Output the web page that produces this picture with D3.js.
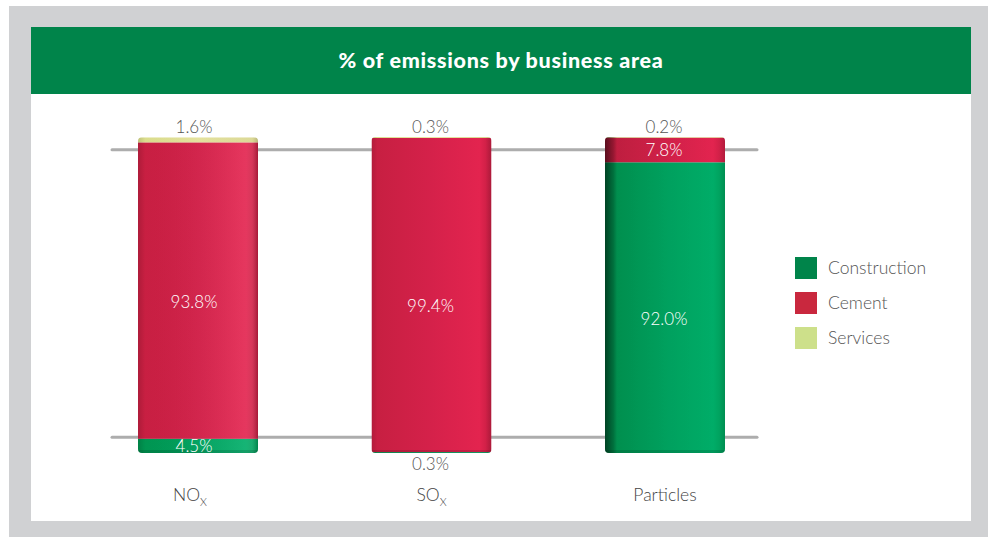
<!DOCTYPE html>
<html><head><meta charset="utf-8">
<script src="https://cdn.jsdelivr.net/npm/d3@7"></script>
<style>
html,body{margin:0;padding:0;background:#fff;}
svg{display:block;}
</style></head>
<body>
<svg id="chart" width="988" height="537"></svg>
<script>
// ---- data ----
const categories = ["NOx", "SOx", "Particles"];
const catMain = ["NO", "SO", "Particles"];
const catSub = ["X", "X", ""];
const seriesNames = ["Construction", "Cement", "Services"];
const construction = [4.5, 0.3, 92.0];
const cement = [93.8, 99.4, 7.8];
const services = [1.6, 0.3, 0.2];
const title = "% of emissions by business area";

// ---- setup ----
const svg = d3.select("#chart");
const W = 988, H = 537;
const font = "Lato, 'Open Sans', sans-serif";

svg.append("rect").attr("x", 9).attr("y", 6).attr("width", W - 9).attr("height", H - 6).attr("fill", "#d0d1d3");
svg.append("rect").attr("x", 31).attr("y", 94).attr("width", 940).attr("height", 427).attr("fill", "#ffffff");
svg.append("rect").attr("x", 31).attr("y", 27).attr("width", 940).attr("height", 67).attr("fill", "#00844a");
svg.append("text").attr("x", 501).attr("y", 68).attr("text-anchor", "middle")
  .attr("fill", "#fff").attr("font-family", font).attr("font-weight", 900)
  .attr("font-size", 21.5).attr("letter-spacing", 0.7).text(title);

const rows = categories.map((c, i) => ({
  cat: c, Construction: construction[i], Cement: cement[i], Services: services[i]
}));
const stack = d3.stack().keys(seriesNames)(rows);

const x = d3.scalePoint().domain(categories).range([198, 665]);
const barW = 120;
const y = d3.scaleLinear().domain([0, 100]).range([453, 137]);

const legendColor = d3.scaleOrdinal().domain(seriesNames).range(["#00844a", "#c9283e", "#cde08a"]);

// gradients
const defs = svg.append("defs");
function grad(id, stops) {
  const g = defs.append("linearGradient").attr("id", id).attr("x1", "0").attr("x2", "1").attr("y1", "0").attr("y2", "0");
  stops.forEach(s => g.append("stop").attr("offset", s[0]).attr("stop-color", s[1]));
}
grad("g-Construction", [[0, "#00934f"], [0.5, "#00a460"], [0.9, "#00ad68"], [1, "#009a58"]]);
grad("g-Cement", [[0, "#c61f41"], [0.5, "#d5214a"], [0.9, "#e3244f"], [1, "#c21d41"]]);
grad("g-Services", [[0, "#d9dc8a"], [0.5, "#e8e6a0"], [1, "#d6d38a"]]);
// per-bar perspective shading overlays
const shadeStops = [
  [[0, "rgba(0,0,0,0.12)"], [0.06, "rgba(0,0,0,0)"], [0.86, "rgba(255,255,255,0.08)"], [0.95, "rgba(255,255,255,0.1)"], [1, "rgba(0,0,0,0.15)"]],
  [[0, "rgba(0,0,0,0.1)"], [0.05, "rgba(0,0,0,0)"], [0.95, "rgba(0,0,0,0)"], [1, "rgba(0,0,0,0.12)"]],
  [[0, "rgba(0,0,0,0.55)"], [0.07, "rgba(0,0,0,0.25)"], [0.1, "rgba(0,0,0,0.05)"], [0.95, "rgba(0,0,0,0)"], [1, "rgba(0,0,0,0.08)"]]
];
shadeStops.forEach((s, i) => {
  const g = defs.append("linearGradient").attr("id", "shade" + i).attr("x1", "0").attr("x2", "1").attr("y1", "0").attr("y2", "0");
  s.forEach(t => g.append("stop").attr("offset", t[0]).attr("stop-color", t[1]));
});
categories.forEach((c, i) => {
  const top = d3.max(stack, s => s[i][1]);
  defs.append("clipPath").attr("id", "clip" + i).append("rect")
    .attr("x", x(c) - barW / 2).attr("y", y(top)).attr("width", barW)
    .attr("height", y(0) - y(top)).attr("rx", 4).attr("ry", 4);
});

// back floor lines (decorative 3D frame)
const frameLevels = [5, 96];
svg.append("g").selectAll("line").data(frameLevels).join("line")
  .attr("x1", 112).attr("x2", 757)
  .attr("y1", d => y(d)).attr("y2", d => y(d))
  .attr("stroke", "#adadad").attr("stroke-width", 3).attr("stroke-linecap", "round");

// bars
const barsG = svg.append("g");
categories.forEach((c, i) => {
  const g = barsG.append("g").attr("clip-path", `url(#clip${i})`);
  stack.forEach(s => {
    const d = s[i];
    g.append("rect")
      .attr("x", x(c) - barW / 2).attr("width", barW)
      .attr("y", y(d[1])).attr("height", Math.max(0, y(d[0]) - y(d[1])))
      .attr("fill", `url(#g-${s.key})`);
  });
  const top = d3.max(stack, s => s[i][1]);
  g.append("rect").attr("x", x(c) - barW / 2).attr("width", barW)
    .attr("y", y(top)).attr("height", y(0) - y(top)).attr("fill", `url(#shade${i})`);
  g.append("rect").attr("x", x(c) - barW / 2).attr("width", barW)
    .attr("y", y(0) - 3).attr("height", 3).attr("fill", "rgba(0,0,0,0.12)");
});

// value labels
const fmt = v => d3.format(".1f")(v) + "%";
const labG = svg.append("g").attr("font-family", font).attr("font-weight", 300).attr("font-size", 17).attr("text-anchor", "middle");
stack.forEach((s, si) => {
  categories.forEach((c, i) => {
    const d = s[i];
    const v = d.data[s.key];
    const h = y(d[0]) - y(d[1]);
    let yy, fill;
    if (h < 10) {
      fill = "#555";
      if (si === stack.length - 1) yy = y(d[1]) - 4;
      else yy = y(0) + 17;
    } else {
      fill = "#fff";
      yy = (y(d[0]) + y(d[1])) / 2 + 6 + (h > 100 ? 11 : 0);
    }
    labG.append("text").attr("x", x(c) - (i === 0 ? 4 : 1)).attr("y", yy).attr("fill", fill).text(fmt(v));
  });
});

// category labels
const catG = svg.append("g").attr("font-family", font).attr("font-weight", 300).attr("fill", "#444").attr("text-anchor", "middle");
categories.forEach((c, i) => {
  const t = catG.append("text").attr("x", x(c) - (i === 0 ? 8 : 0)).attr("y", 501).attr("font-size", 17.5);
  t.append("tspan").text(catMain[i]);
  if (catSub[i]) t.append("tspan").attr("font-size", 11).attr("dy", 5).text(catSub[i]);
});

// legend
const leg = svg.append("g").attr("font-family", font).attr("font-weight", 300).attr("font-size", 17.5);
seriesNames.forEach((n, i) => {
  const yy = 257 + i * 35;
  leg.append("rect").attr("x", 795).attr("y", yy).attr("width", 22).attr("height", 22).attr("fill", legendColor(n));
  leg.append("text").attr("x", 828).attr("y", yy + 17).attr("fill", "#555").text(n);
});
</script>
</body></html>
